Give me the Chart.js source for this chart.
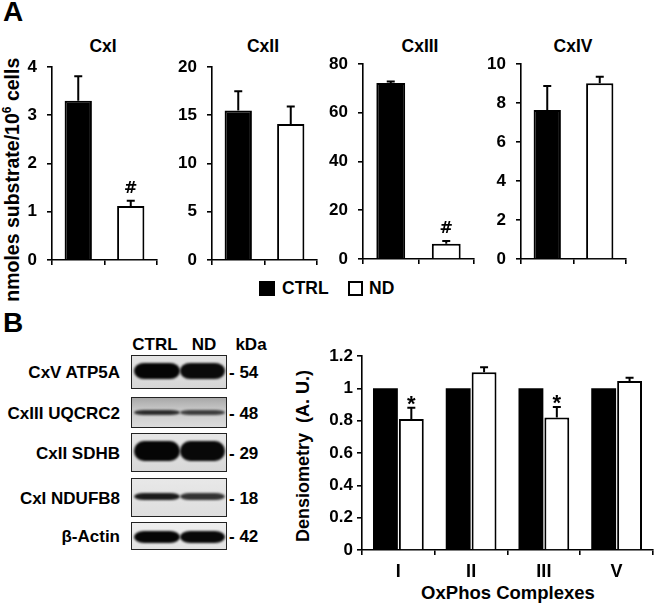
<!DOCTYPE html>
<html>
<head>
<meta charset="utf-8">
<script src="https://cdn.jsdelivr.net/npm/chart.js@4.4.1/dist/chart.umd.min.js"></script>
<style>
  html,body{margin:0;padding:0;background:#fff;}
  body{width:656px;height:603px;overflow:hidden;position:relative;font-family:"Liberation Sans",Arial,sans-serif;font-weight:bold;color:#000;}
  .t{position:absolute;white-space:nowrap;line-height:1;}
  canvas{position:absolute;}
  .box{position:absolute;border:1.5px solid #222;box-sizing:border-box;overflow:hidden;}
  .band{position:absolute;border-radius:10px/50%;filter:blur(1px);}
  .sq{position:absolute;box-sizing:border-box;border:2px solid #000;}
</style>
</head>
<body>
<script>
// ---------------- DATA ----------------
// Panel A: enzyme activities (nmoles substrate / 10^6 cells)
const activityTitles = ['CxI', 'CxII', 'CxIII', 'CxIV'];
const groupLabels = ['CTRL', 'ND'];
const ctrlActivity    = [3.30, 15.5, 72.2, 7.64];
const ctrlActivityErr = [0.51, 2.0, 0.6, 1.23];
const ndActivity      = [1.12, 14.1, 6.3, 9.01];
const ndActivityErr   = [0.11, 1.8, 1.1, 0.34];
const ndActivityMarks = ['#', '', '#', ''];
const activityMax  = [4, 20, 80, 10];
const activityStep = [1, 5, 20, 2];

// Panel B: densitometry (A. U.)
const complexes   = ['I', 'II', 'III', 'V'];
const ctrlDens    = [1, 1, 1, 1];
const ctrlDensErr = [0, 0, 0, 0];
const ndDens      = [0.81, 1.10, 0.82, 1.045];
const ndDensErr   = [0.07, 0.03, 0.065, 0.02];
const ndDensMarks = ['*', '', '*', ''];
const densMax = 1.2, densStep = 0.2;

// Western blot labels
const blotProteins = ['CxV ATP5A', 'CxIII UQCRC2', 'CxII SDHB', 'CxI NDUFB8', '\u03B2-Actin'];
const blotKDa = ['54', '48', '29', '18', '42'];

// ---------------- LAYOUT (positions only) ----------------
const areasA = [
  {l: 52,  r: 157, t: 67, b: 260},
  {l: 212, r: 317, t: 67, b: 260},
  {l: 363, r: 474, t: 64, b: 259},
  {l: 521, r: 626, t: 64, b: 259}
];
const titleCentersA = [103, 263, 420, 573];
const areaB = {l: 362, r: 653, t: 356, b: 550};
const blotBoxes = [
  {t: 355, h: 34, bg: 'linear-gradient(#e4e4e4,#d6d6d6)', bandTop: 7, bandH: 16, c1: '#050505', c2: '#0a0a0a'},
  {t: 397, h: 31, bg: 'linear-gradient(#a8a8a8,#cbcbcb 45%,#dcdcdc)', bandTop: 12, bandH: 5, c1: '#2a2a2a', c2: '#3c3c3c'},
  {t: 433, h: 39, bg: 'linear-gradient(#e6e6e6,#d8d8d8)', bandTop: 7, bandH: 20, c1: '#050505', c2: '#080808'},
  {t: 478, h: 39, bg: 'linear-gradient(#e8e8e8,#dedede)', bandTop: 14, bandH: 7, c1: '#1a1a1a', c2: '#333'},
  {t: 522, h: 28, bg: 'linear-gradient(#eeeeee,#e2e2e2)', bandTop: 8, bandH: 12, c1: '#050505', c2: '#080808'}
];

// ---------------- helpers ----------------
function addText(txt, x, y, size, anchor, rot, html) {
  const d = document.createElement('div');
  d.className = 't';
  if (html) d.innerHTML = txt; else d.textContent = txt;
  d.style.left = x + 'px';
  d.style.top = y + 'px';
  d.style.fontSize = size + 'px';
  if (rot) {
    d.style.transform = 'rotate(' + rot + 'deg)';
    document.body.appendChild(d);
    const r = d.getBoundingClientRect();
    const cx = (r.left + r.right) / 2, cy = (r.top + r.bottom) / 2;
    d.style.left = (x + (x - cx)) + 'px';
    d.style.top = (y + (y - cy)) + 'px';
    return d;
  }
  d.style.transform = anchor === 'r' ? 'translate(-100%,-50%)' : anchor === 'l' ? 'translate(0,-50%)' : 'translate(-50%,-50%)';
  document.body.appendChild(d);
  return d;
}
function makeCanvas(area, yw, xh, padTop, padRight) {
  const c = document.createElement('canvas');
  c.width = Math.round(area.r - area.l + yw + padRight);
  c.height = Math.round(padTop + area.b - area.t + xh);
  c.style.left = (area.l - yw) + 'px';
  c.style.top = (area.t - padTop) + 'px';
  document.body.appendChild(c);
  return c;
}

const errorBarPlugin = {
  id: 'errBars',
  afterDatasetsDraw(chart) {
    const ctx = chart.ctx, ys = chart.scales.y;
    chart.data.datasets.forEach((ds, di) => {
      const meta = chart.getDatasetMeta(di);
      meta.data.forEach((bar, i) => {
        const v = ds.data[i];
        const e = ds.errors ? ds.errors[i] : 0;
        const x = bar.x;
        const yTop = ys.getPixelForValue(v);
        const yE = ys.getPixelForValue(v + e);
        ctx.save();
        if (e > 0) {
          ctx.strokeStyle = '#000';
          ctx.lineWidth = 2;
          ctx.beginPath();
          ctx.moveTo(x, yTop); ctx.lineTo(x, yE);
          ctx.moveTo(x - 4, yE); ctx.lineTo(x + 4, yE);
          ctx.stroke();
        }
        const m = ds.marks ? ds.marks[i] : '';
        if (m) {
          ctx.fillStyle = '#000';
          ctx.textAlign = 'center';
          ctx.textBaseline = 'alphabetic';
          if (m === '*') {
            ctx.font = 'bold 22px "Liberation Sans", Arial, sans-serif';
            ctx.fillText(m, x, yE + 3);
          } else {
            ctx.font = 'bold 16px "DejaVu Sans", sans-serif';
            ctx.fillText(m, x, yE - 8);
          }
        }
        ctx.restore();
      });
    });
  }
};

const FONT = '"Liberation Sans", Arial, sans-serif';
function axisCommon(tickLen) {
  return {
    grid: {display: true, drawOnChartArea: false, drawTicks: true, tickLength: tickLen, color: '#000', lineWidth: 1.6},
    border: {display: true, color: '#000', width: 1.6}
  };
}
function fixY(w) {
  return s => { s.width = w; s.paddingTop = 0; s.paddingBottom = 0; };
}
function fixX(h) {
  return s => { s.height = h; s.paddingLeft = 0; s.paddingRight = 0; };
}

// ---------------- Panel A ----------------
addText('A', 3, 12, 28, 'l');
addText('nmoles substrate/10<sup style="font-size:12px;vertical-align:8px">6</sup> cells', 12, 180, 19.5, 'c', -90, true);

activityTitles.forEach((title, i) => {
  addText(title, titleCentersA[i], 47, 17.5, 'c');
  const area = areasA[i];
  const yw = 34, xh = 12, padTop = 14, padRight = 4;
  const cv = makeCanvas(area, yw, xh, padTop, padRight);
  new Chart(cv, {
    type: 'bar',
    data: {
      labels: groupLabels,
      datasets: [{
        data: [ctrlActivity[i], ndActivity[i]],
        errors: [ctrlActivityErr[i], ndActivityErr[i]],
        marks: ['', ndActivityMarks[i]],
        backgroundColor: ['#000', '#fff'],
        borderColor: '#000',
        borderWidth: 2,
        barPercentage: 0.52,
        categoryPercentage: 1.0
      }]
    },
    options: {
      responsive: false, animation: false, devicePixelRatio: 1,
      layout: {padding: {top: padTop, right: padRight, left: 0, bottom: 0}},
      plugins: {legend: {display: false}, tooltip: {enabled: false}, title: {display: false}},
      scales: {
        x: Object.assign(axisCommon(5), {
          type: 'category', offset: true,
          ticks: {display: false},
          afterFit: fixX(xh)
        }),
        y: Object.assign(axisCommon(5), {
          min: 0, max: activityMax[i],
          ticks: {stepSize: activityStep[i], color: '#000', padding: 10, font: {family: FONT, size: 17, weight: 'bold'}},
          afterFit: fixY(yw)
        })
      }
    },
    plugins: [errorBarPlugin]
  });
});

// legend
(function () {
  const s1 = document.createElement('div'); s1.className = 'sq';
  Object.assign(s1.style, {left: '259px', top: '281px', width: '16px', height: '15px', background: '#000'});
  document.body.appendChild(s1);
  addText(groupLabels[0], 282, 289, 17.5, 'l');
  const s2 = document.createElement('div'); s2.className = 'sq';
  Object.assign(s2.style, {left: '348px', top: '281px', width: '15px', height: '15px', background: '#fff'});
  document.body.appendChild(s2);
  addText(groupLabels[1], 369, 289, 17.5, 'l');
})();

// ---------------- Panel B: blot ----------------
addText('B', 3, 323, 28, 'l');
addText(groupLabels[0], 155, 344, 17, 'c');
addText(groupLabels[1], 204, 344, 17, 'c');
addText('kDa', 251, 344, 17, 'c');
blotBoxes.forEach((bx, i) => {
  const d = document.createElement('div');
  d.className = 'box';
  Object.assign(d.style, {left: '131px', top: bx.t + 'px', width: '96px', height: bx.h + 'px', background: bx.bg});
  [[2, 46, bx.c1], [48, 45, bx.c2]].forEach(([l, w, c]) => {
    const b = document.createElement('div');
    b.className = 'band';
    Object.assign(b.style, {left: l + 'px', width: w + 'px', top: bx.bandTop + 'px', height: bx.bandH + 'px', background: c});
    d.appendChild(b);
  });
  document.body.appendChild(d);
  const cy = bx.t + bx.h / 2;
  addText(blotProteins[i], 120, cy, 17, 'r');
  addText('- ' + blotKDa[i], 229, cy, 17, 'l');
});

// ---------------- Panel B: densitometry chart ----------------
addText('Densiometry&nbsp; (A. U.)', 303, 456, 18, 'c', -90, true);
addText('OxPhos Complexes', 508, 593, 18.5, 'c');
(function () {
  const yw = 55, xh = 36, padTop = 14, padRight = 3;
  const cv = makeCanvas(areaB, yw, xh, padTop, padRight);
  new Chart(cv, {
    type: 'bar',
    data: {
      labels: complexes,
      datasets: [
        {label: groupLabels[0], data: ctrlDens, errors: ctrlDensErr, backgroundColor: '#000', borderColor: '#000', borderWidth: 0,
         barPercentage: 0.96, categoryPercentage: 0.712},
        {label: groupLabels[1], data: ndDens, errors: ndDensErr, marks: ndDensMarks, backgroundColor: '#fff', borderColor: '#000', borderWidth: 2,
         barPercentage: 0.96, categoryPercentage: 0.712}
      ]
    },
    options: {
      responsive: false, animation: false, devicePixelRatio: 1,
      layout: {padding: {top: padTop, right: padRight, left: 0, bottom: 0}},
      plugins: {legend: {display: false}, tooltip: {enabled: false}, title: {display: false}},
      scales: {
        x: Object.assign(axisCommon(5), {
          type: 'category', offset: true,
          ticks: {color: '#000', padding: 6, font: {family: FONT, size: 18, weight: 'bold'}},
          afterFit: fixX(xh)
        }),
        y: Object.assign(axisCommon(5), {
          min: 0, max: densMax,
          ticks: {stepSize: densStep, color: '#000', padding: 4, font: {family: FONT, size: 17, weight: 'bold'},
                  callback: v => String(Math.round(v * 10) / 10)},
          afterFit: fixY(yw)
        })
      }
    },
    plugins: [errorBarPlugin]
  });
})();
</script>
</body>
</html>
